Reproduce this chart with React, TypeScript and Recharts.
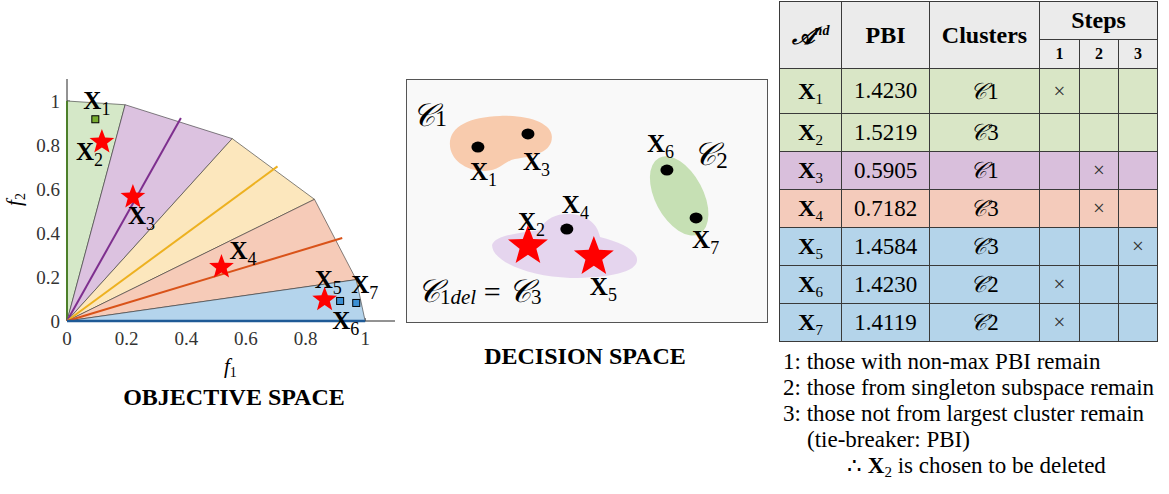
import React from 'react';
import { ScatterChart, Scatter, XAxis, YAxis } from 'recharts';

const SERIF = '"Liberation Serif", "Times New Roman", serif';
const SCRIPT = '"DejaVu Serif", "DejaVu Sans", "Liberation Serif", serif';

// ---------- Objective space data ----------
const objTicks = [0, 0.2, 0.4, 0.6, 0.8, 1];
const sectorGreen = [{ x: 0, y: 0 }, { x: 0, y: 1 }, { x: 0.195, y: 0.983 }];
const sectorPurple = [{ x: 0, y: 0 }, { x: 0.195, y: 0.983 }, { x: 0.554, y: 0.829 }];
const sectorYellow = [{ x: 0, y: 0 }, { x: 0.554, y: 0.829 }, { x: 0.83, y: 0.553 }];
const sectorOrange = [{ x: 0, y: 0 }, { x: 0.83, y: 0.553 }, { x: 0.97, y: 0.188 }];
const sectorBlue = [{ x: 0, y: 0 }, { x: 0.97, y: 0.188 }, { x: 1.0, y: 0 }];
const refGreen = [{ x: 0, y: 0 }, { x: 0, y: 1 }];
const refPurple = [{ x: 0, y: 0 }, { x: 0.382, y: 0.923 }];
const refYellow = [{ x: 0, y: 0 }, { x: 0.706, y: 0.703 }];
const refOrange = [{ x: 0, y: 0 }, { x: 0.923, y: 0.377 }];
const refBlue = [{ x: 0, y: 0 }, { x: 1, y: 0 }];
const objStars = [
  { name: '2', x: 0.117, y: 0.814 },
  { name: '3', x: 0.221, y: 0.564 },
  { name: '4', x: 0.518, y: 0.245 },
  { name: '5', x: 0.864, y: 0.097 },
];
const objSquares = [
  { name: '1', x: 0.095, y: 0.917 },
  { name: '6', x: 0.916, y: 0.091 },
  { name: '7', x: 0.97, y: 0.082 },
];

// ---------- Decision space data ----------
const decDots = [
  { name: '1', x: 1.97, y: 7.23 },
  { name: '3', x: 3.36, y: 7.77 },
  { name: '4', x: 4.44, y: 3.84 },
  { name: '6', x: 7.22, y: 6.28 },
  { name: '7', x: 8.03, y: 4.3 },
];
const decStars = [
  { name: '2', x: 3.36, y: 3.14 },
  { name: '5', x: 5.19, y: 2.69 },
];
const decClusters = [
  { name: '1', x: 2.58, y: 7.36 },
  { name: '3', x: 4.39, y: 2.98 },
  { name: '2', x: 7.56, y: 5.21 },
];

// ---------- Table data ----------
const rowNames = ['1', '2', '3', '4', '5', '6', '7'];
const rowPBI = ['1.4230', '1.5219', '0.5905', '0.7182', '1.4584', '1.4230', '1.4119'];
const rowCluster = ['1', '3', '1', '3', '3', '2', '2'];
const rowStep = [1, 0, 2, 2, 3, 1, 1];
const notes = [
  '1: those with non-max PBI remain',
  '2: those from singleton subspace remain',
  '3: those not from largest cluster remain',
  '(tie-breaker: PBI)',
];

// ---------- styles ----------
const SECTOR_FILL = { green: '#d5e8c8', purple: '#dcc2e0', yellow: '#fce7bd', orange: '#f6cbb8', blue: '#b4d4ec' };
const REF_STROKE = { green: '#4d7f2a', purple: '#7e2f8e', yellow: '#edb120', orange: '#d95319', blue: '#1f5a96' };
const SQUARE_FILL: Record<string, string> = { '1': '#77ac30', '6': '#3b8fd3', '7': '#3b8fd3' };
const ROW_BG = ['#d9e6c6', '#d9e6c6', '#d9bfdc', '#f4cbbb', '#b4d4ea', '#b4d4ea', '#b4d4ea'];
const OBJ_LABEL_OFF: Record<string, [number, number]> = {
  '1': [-12, -10], '2': [-26, 18], '3': [-5, 27], '4': [8, -8], '5': [-10, -12], '6': [-8, 28], '7': [-5, -10],
};
const DEC_LABEL_OFF: Record<string, [number, number]> = {
  '1': [-8, 33], '3': [-5, 36], '4': [-5, -16], '6': [-20, -18], '7': [-4, 30], '2': [-10, -16], '5': [-4, 38],
};

const starPoints = (cx: number, cy: number, R: number) => {
  const r = R * 0.42;
  const pts: string[] = [];
  for (let i = 0; i < 10; i++) {
    const a = -Math.PI / 2 + (i * Math.PI) / 5;
    const rad = i % 2 === 0 ? R : r;
    pts.push(`${cx + rad * Math.cos(a)},${cy + rad * Math.sin(a)}`);
  }
  return pts.join(' ');
};

const polygonLine = (fill: string) => (p: any) => (
  <polygon
    points={(p.points || []).map((q: any) => `${q.x},${q.y}`).join(' ')}
    fill={fill}
    stroke="#333"
    strokeWidth={0.6}
  />
);

const Empty = () => <g />;

const XLabel = (off: Record<string, [number, number]>, big: number, small: number) => (props: any) => {
  const { cx, cy, payload } = props;
  const [dx, dy] = off[payload.name];
  return (
    <text x={cx + dx} y={cy + dy} fontFamily={SERIF} fill="#000">
      <tspan fontWeight="bold" fontSize={big}>X</tspan>
      <tspan fontSize={small} dy={6}>{payload.name}</tspan>
    </text>
  );
};

const ObjStar = (props: any) => <polygon points={starPoints(props.cx, props.cy, 13)} fill="#ff0000" />;
const ObjSquare = (props: any) => (
  <rect x={props.cx - 3.5} y={props.cy - 3.5} width={7} height={7} fill={SQUARE_FILL[props.payload.name]} stroke="#000" strokeWidth={1} />
);

const TICK_FONT = { fontFamily: SERIF, fontSize: 19, fill: '#333' };

const ObjectiveChart = () => (
  <ScatterChart width={410} height={420} margin={{ top: 79, right: 15, bottom: 69, left: 27 }}>
    <XAxis
      type="number" dataKey="x" domain={[0, 1.1]} ticks={objTicks} tickSize={-3} tickMargin={14}
      tickLine={{ stroke: '#555' }} axisLine={{ stroke: '#262626' }} tick={TICK_FONT} height={30}
    />
    <YAxis
      type="number" dataKey="y" domain={[0, 1.1]} ticks={objTicks} tickSize={-3} tickMargin={10}
      tickLine={{ stroke: '#555' }} axisLine={{ stroke: '#262626' }} tick={TICK_FONT} width={40}
    />
    <XAxis
      xAxisId="top" orientation="top" type="number" dataKey="x" domain={[0, 1.1]} ticks={objTicks} tickSize={-3}
      tick={false} tickLine={{ stroke: '#777' }} axisLine={{ stroke: '#999' }} height={0}
    />
    <YAxis
      yAxisId="right" orientation="right" type="number" dataKey="y" domain={[0, 1.1]} ticks={objTicks} tickSize={-3}
      tick={false} tickLine={{ stroke: '#777' }} axisLine={{ stroke: '#999' }} width={0}
    />
    <Scatter data={sectorGreen} line={polygonLine(SECTOR_FILL.green)} lineType="joint" shape={Empty} isAnimationActive={false} />
    <Scatter data={sectorPurple} line={polygonLine(SECTOR_FILL.purple)} lineType="joint" shape={Empty} isAnimationActive={false} />
    <Scatter data={sectorYellow} line={polygonLine(SECTOR_FILL.yellow)} lineType="joint" shape={Empty} isAnimationActive={false} />
    <Scatter data={sectorOrange} line={polygonLine(SECTOR_FILL.orange)} lineType="joint" shape={Empty} isAnimationActive={false} />
    <Scatter data={sectorBlue} line={polygonLine(SECTOR_FILL.blue)} lineType="joint" shape={Empty} isAnimationActive={false} />
    <Scatter data={refGreen} line={{ stroke: REF_STROKE.green, strokeWidth: 2 }} lineType="joint" shape={Empty} isAnimationActive={false} />
    <Scatter data={refPurple} line={{ stroke: REF_STROKE.purple, strokeWidth: 2 }} lineType="joint" shape={Empty} isAnimationActive={false} />
    <Scatter data={refYellow} line={{ stroke: REF_STROKE.yellow, strokeWidth: 2 }} lineType="joint" shape={Empty} isAnimationActive={false} />
    <Scatter data={refOrange} line={{ stroke: REF_STROKE.orange, strokeWidth: 2 }} lineType="joint" shape={Empty} isAnimationActive={false} />
    <Scatter data={refBlue} line={{ stroke: REF_STROKE.blue, strokeWidth: 2.5 }} lineType="joint" shape={Empty} isAnimationActive={false} />
    <Scatter data={objSquares} shape={ObjSquare} isAnimationActive={false} />
    <Scatter data={objStars} shape={ObjStar} isAnimationActive={false} />
    <Scatter data={[...objSquares, ...objStars]} shape={XLabel(OBJ_LABEL_OFF, 25, 18)} isAnimationActive={false} />
  </ScatterChart>
);

const BLOB_FILL: Record<string, string> = { '1': '#f8cbad', '3': '#e5d5ee', '2': '#c6e0b4' };
const Cal = ({ children, size }: { children: React.ReactNode; size: number }) => (
  <tspan fontFamily={SCRIPT} fontStyle="italic" fontSize={size}>{children}</tspan>
);

const Blob = (props: any) => {
  const { cx, cy, payload } = props;
  const n = payload.name;
  if (n === '1') {
    return (
      <g>
        <path
          transform={`translate(${cx},${cy})`}
          d="M -50,0 C -50,-18 -30,-27 0,-28 C 30,-29 52,-20 52,-7 C 52,8 35,12 15,15 C 5,17 0,27 -15,27 C -35,27 -50,15 -50,0 Z"
          fill={BLOB_FILL[n]}
        />
        <text x={cx - 88} y={cy - 18} fill="#000" fontFamily={SERIF}>
          <Cal size={32}>𝒞</Cal><tspan fontSize={24}>1</tspan>
        </text>
      </g>
    );
  }
  if (n === '3') {
    return (
      <g>
        <path
          transform={`translate(${cx},${cy})`}
          d="M -73,-5 C -70,-15 -45,-17 -25,-20 C -20,-32 -8,-36 2,-36 C 20,-36 32,-28 35,-13 C 55,-8 72,0 72,10 C 72,22 45,28 5,28 C -35,27 -73,12 -73,-5 Z"
          fill={BLOB_FILL[n]}
        />
        <text x={cx - 148} y={cy + 52} fill="#000" fontFamily={SERIF}>
          <Cal size={32}>𝒞</Cal>
          <tspan fontSize={21} dy={2}>1</tspan>
          <tspan fontSize={21} fontStyle="italic">del</tspan>
          <tspan fontSize={30} dy={-2}> = </tspan>
          <Cal size={32}>𝒞</Cal>
          <tspan fontSize={21} dy={2}>3</tspan>
        </text>
      </g>
    );
  }
  return (
    <g>
      <ellipse cx={cx} cy={cy} rx={24} ry={43} transform={`rotate(-28 ${cx} ${cy})`} fill={BLOB_FILL[n]} />
      <text x={cx + 14} y={cy - 31} fill="#000" fontFamily={SERIF}>
        <Cal size={32}>𝒞</Cal><tspan fontSize={23} dy={3}>2</tspan>
      </text>
    </g>
  );
};
const DecDot = (props: any) => <ellipse cx={props.cx} cy={props.cy} rx={6.5} ry={5.5} fill="#000" />;
const DecStar = (props: any) => <polygon points={starPoints(props.cx, props.cy, 21)} fill="#ff0000" />;

const DecisionChart = () => (
  <ScatterChart width={360} height={242} margin={{ top: 0, right: 0, bottom: 0, left: 0 }}>
    <XAxis type="number" dataKey="x" domain={[0, 10]} hide />
    <YAxis type="number" dataKey="y" domain={[0, 10]} hide />
    <Scatter data={decClusters} shape={Blob} isAnimationActive={false} />
    <Scatter data={decDots} shape={DecDot} isAnimationActive={false} />
    <Scatter data={decStars} shape={DecStar} isAnimationActive={false} />
    <Scatter data={[...decDots, ...decStars]} shape={XLabel(DEC_LABEL_OFF, 25, 18)} isAnimationActive={false} />
  </ScatterChart>
);

const COLW = [62, 88, 110, 40, 39, 39];
const cellBorder = '1.5px solid #3a3a3a';

const Table = () => {
  const td: React.CSSProperties = { border: cellBorder, textAlign: 'center', padding: 0, fontFamily: SERIF };
  return (
    <table style={{ position: 'absolute', left: 779, top: 1, borderCollapse: 'collapse', tableLayout: 'fixed', width: 378 }}>
      <colgroup>
        {COLW.map((w, i) => <col key={i} style={{ width: w }} />)}
      </colgroup>
      <tbody>
        <tr style={{ height: 38, background: '#ebebeb' }}>
          <td rowSpan={2} style={{ ...td, fontSize: 24, fontWeight: 'bold' }}>
            <span style={{ fontFamily: SCRIPT, fontStyle: 'italic' }}>𝒜</span>
            <sup style={{ fontSize: 14, fontStyle: 'italic' }}>nd</sup>
          </td>
          <td rowSpan={2} style={{ ...td, fontSize: 24, fontWeight: 'bold' }}>PBI</td>
          <td rowSpan={2} style={{ ...td, fontSize: 24, fontWeight: 'bold' }}>Clusters</td>
          <td colSpan={3} style={{ ...td, fontSize: 24, fontWeight: 'bold' }}>Steps</td>
        </tr>
        <tr style={{ height: 29, background: '#ebebeb' }}>
          {[1, 2, 3].map((s) => (
            <td key={s} style={{ ...td, fontSize: 16, fontWeight: 'bold' }}>{s}</td>
          ))}
        </tr>
        {rowNames.map((n, i) => (
          <tr key={n} style={{ height: i === 0 ? 45 : 38, background: ROW_BG[i] }}>
            <td style={td}>
              <span style={{ fontSize: 24, fontWeight: 'bold' }}>X</span>
              <span style={{ fontSize: 15, position: 'relative', top: 5 }}>{n}</span>
            </td>
            <td style={{ ...td, fontSize: 23 }}>{rowPBI[i]}</td>
            <td style={{ ...td, fontSize: 23 }}>
              <span style={{ fontFamily: SCRIPT, fontStyle: 'italic' }}>𝒞</span>{rowCluster[i]}
            </td>
            {[1, 2, 3].map((s) => (
              <td key={s} style={{ ...td, fontSize: 21, color: '#333' }}>{rowStep[i] === s ? '×' : ''}</td>
            ))}
          </tr>
        ))}
      </tbody>
    </table>
  );
};

export default function App() {
  return (
    <div style={{ position: 'absolute', left: 0, top: 0, width: 1169, height: 494, background: '#fff', overflow: 'hidden', fontFamily: SERIF }}>
      <div style={{ position: 'absolute', left: 0, top: 0 }}>
        <ObjectiveChart />
      </div>
      <div style={{ position: 'absolute', left: 9, top: 188, fontSize: 21, fontStyle: 'italic', transform: 'rotate(-90deg)', transformOrigin: 'center', lineHeight: '20px' }}>
        f<span style={{ fontSize: 14, fontStyle: 'normal', position: 'relative', top: 4 }}>2</span>
      </div>
      <div style={{ position: 'absolute', left: 224, top: 356, fontSize: 21, fontStyle: 'italic', lineHeight: '20px' }}>
        f<span style={{ fontSize: 14, fontStyle: 'normal', position: 'relative', top: 4 }}>1</span>
      </div>
      <div style={{ position: 'absolute', left: 84, width: 300, top: 383, textAlign: 'center', fontSize: 24, fontWeight: 'bold', lineHeight: '28px' }}>
        OBJECTIVE SPACE
      </div>

      <div style={{ position: 'absolute', left: 406, top: 79, width: 362, height: 244, border: '1.5px solid #555', background: '#f9f9f9', boxSizing: 'border-box' }} />
      <div style={{ position: 'absolute', left: 407, top: 80 }}>
        <DecisionChart />
      </div>
      <div style={{ position: 'absolute', left: 435, width: 300, top: 342, textAlign: 'center', fontSize: 24, fontWeight: 'bold', lineHeight: '28px' }}>
        DECISION SPACE
      </div>

      <Table />
      <div style={{ position: 'absolute', left: 783, top: 349, fontSize: 23, lineHeight: '26px' }}>
        {notes.map((t, i) => (
          <div key={i} style={{ paddingLeft: i === 3 ? 24 : 0, whiteSpace: 'nowrap' }}>{t}</div>
        ))}
        <div style={{ paddingLeft: 64, whiteSpace: 'nowrap' }}>
          ∴ <b>X</b><span style={{ fontSize: 15, position: 'relative', top: 4 }}>2</span> is chosen to be deleted
        </div>
      </div>
    </div>
  );
}
